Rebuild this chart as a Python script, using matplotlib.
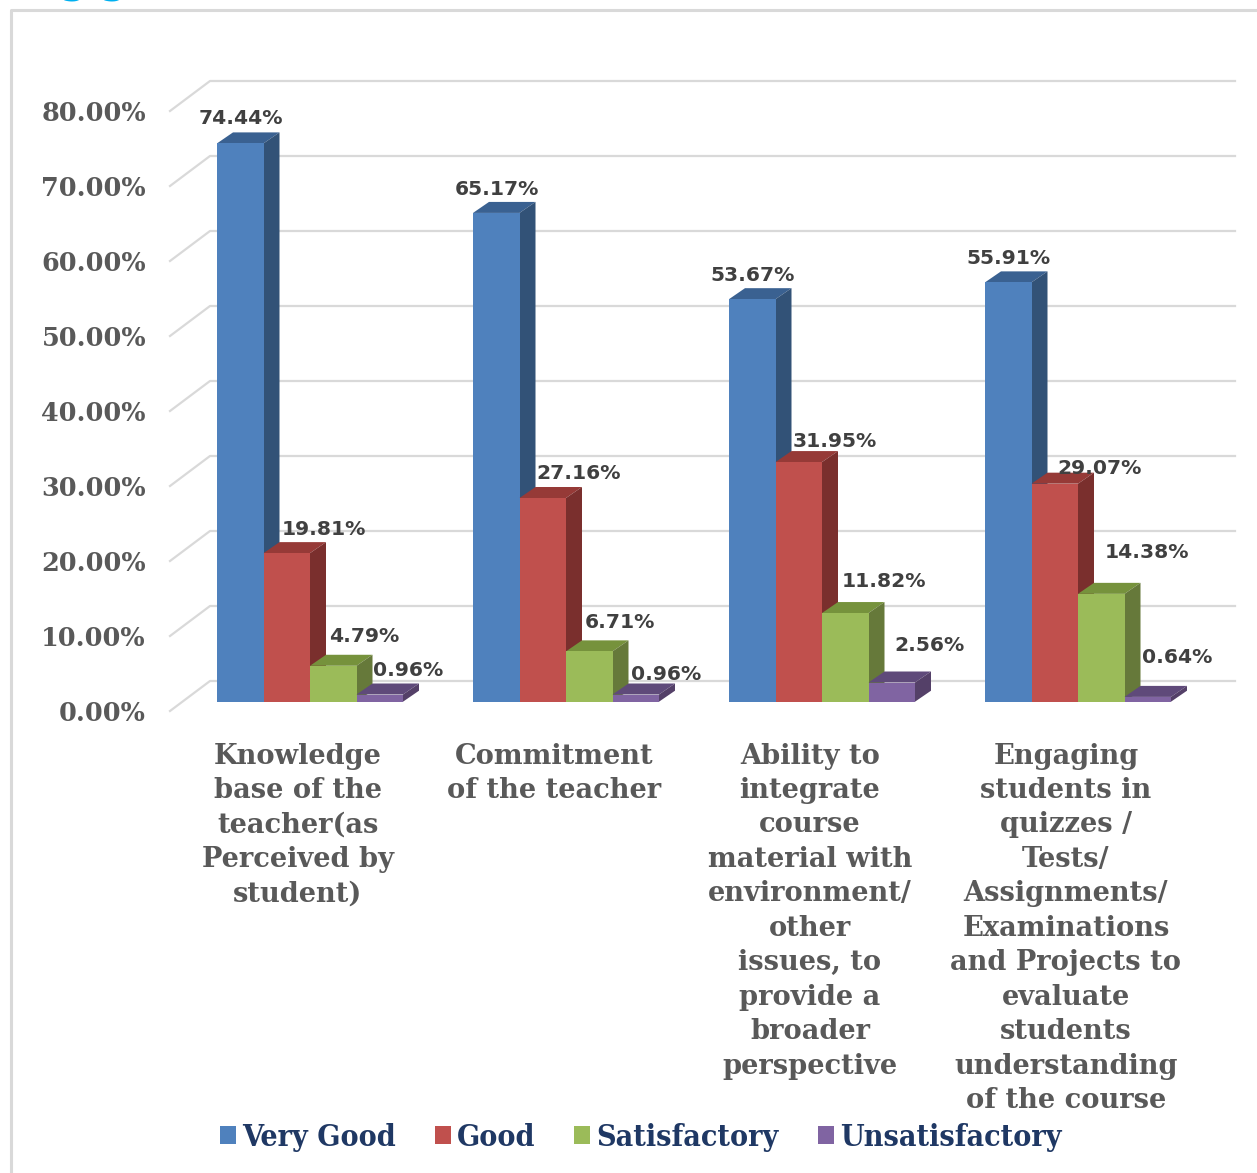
import matplotlib
matplotlib.use('Agg')
import matplotlib.pyplot as plt
from matplotlib.patches import Patch

categories = [
    'Knowledge\nbase of the\nteacher(as\nPerceived by\nstudent)',
    'Commitment\nof the teacher',
    'Ability to\nintegrate\ncourse\nmaterial with\nenvironment/\nother\nissues, to\nprovide a\nbroader\nperspective',
    'Engaging\nstudents in\nquizzes /\nTests/\nAssignments/\nExaminations\nand Projects to\nevaluate\nstudents\nunderstanding\nof the course',
]
series_names = ['Very Good', 'Good', 'Satisfactory', 'Unsatisfactory']
very_good = [74.44, 65.17, 53.67, 55.91]
good = [19.81, 27.16, 31.95, 29.07]
satisfactory = [4.79, 6.71, 11.82, 14.38]
unsatisfactory = [0.96, 0.96, 2.56, 0.64]
y_ticks = [0, 10, 20, 30, 40, 50, 60, 70, 80]

# front, top, side shades of each series
colors = [('#4f81bd', '#3a6191', '#325277'),
          ('#c0504d', '#963a37', '#7a2f2d'),
          ('#9bbb59', '#76923c', '#66793a'),
          ('#8064a2', '#5f4a7a', '#544068')]
# label nudges from the bar centre/top, in pixels
label_nudge = [
    [(1, 25), (37, 24), (31, 30), (28, 24)],
    [(1, 24), (36, 25), (31, 29), (30, 20)],
    [(0, 24), (36, 21), (39, 32), (38, 37)],
    [(0, 24), (45, 16), (46, 42), (29, 40)],
]

W, H = 1257, 1173
PX = 7.5      # pixels per percent
BASE = 701.7  # pixel row of 0% at the bars
BAR_W = 46.5
GROUP_X = [217, 473, 729, 985]
DX, DY = 16, 11 / PX
WALL_DX, WALL_DY = 40, 30 / PX
GRID = '#d9d9d9'
SERIF = 'DejaVu Serif'

fig = plt.figure(figsize=(W / 100, H / 100), dpi=100)
ax = fig.add_axes([0, 0, 1, 1])
ax.set_xlim(0, W)
ax.set_ylim((BASE - H) / PX, BASE / PX)
ax.axis('off')


def py(pixel):
    return (BASE - pixel) / PX


# chart frame, open to the right and bottom
ax.plot([11, 11, W], [py(H), py(10), py(10)], color='#d9d9d9', lw=2.2, zorder=1)
# what is left of the heading above the crop
ax.text(60, py(-5), 'g', color='#00b0f0', fontsize=26, family=SERIF, weight='bold', va='baseline')
ax.text(100, py(-5), 'g', color='#00b0f0', fontsize=26, family=SERIF, weight='bold', va='baseline')

# wall gridlines and their floor-side stubs
for t in y_ticks:
    y0 = t + py(711)
    ax.plot([170, 170 + WALL_DX, 1235], [y0, y0 + WALL_DY, y0 + WALL_DY], color=GRID, lw=1.6, zorder=2)
    ax.annotate('%.2f%%' % t, xy=(146, y0), xytext=(0, -1.5), textcoords='offset points',
                ha='right', va='center', color='#595959',
                fontsize=18.4, family=SERIF, weight='bold')

all_series = [very_good, good, satisfactory, unsatisfactory]
z = 3
for g, gx in enumerate(GROUP_X):
    for s, values in enumerate(all_series):
        v = values[g]
        x0 = gx + s * BAR_W
        x1 = x0 + BAR_W
        front, top, side = colors[s]
        ax.fill([x0, x1, x1 + DX, x0 + DX], [v, v, v + DY, v + DY], color=top, lw=0, zorder=z)
        ax.fill([x1, x1 + DX, x1 + DX, x1], [0, DY, v + DY, v], color=side, lw=0, zorder=z)
        ax.bar(x0, v, width=BAR_W, align='edge', color=front, lw=0, zorder=z + 0.5)
        z += 1
        nx, ny = label_nudge[g][s]
        ax.annotate('%.2f%%' % v, xy=(x0 + BAR_W / 2, v), xytext=(nx * 0.72, ny * 0.72 - 0.3),
                    textcoords='offset points', ha='center', va='center', color='#404040',
                    fontsize=14.6, weight='bold', family='DejaVu Sans', zorder=100)
    ax.text(gx + 81, py(742.5), categories[g], ha='center', va='top', color='#595959',
            fontsize=19.6, family=SERIF, weight='bold', linespacing=1.355, zorder=100)

handles = [Patch(color=colors[i][0], lw=0) for i in range(4)]
ax.legend(handles, series_names, loc='center', bbox_to_anchor=(640.5 / W, 1 - 1137.5 / H),
          ncol=4, frameon=False,
          prop={'family': SERIF, 'weight': 'bold', 'stretch': 'condensed', 'size': 21.8},
          labelcolor='#1f3864', handlelength=0.52, handleheight=0.52, handletextpad=0.2,
          columnspacing=1.3, borderpad=0, borderaxespad=0)

fig.savefig('out.png', dpi=100)
